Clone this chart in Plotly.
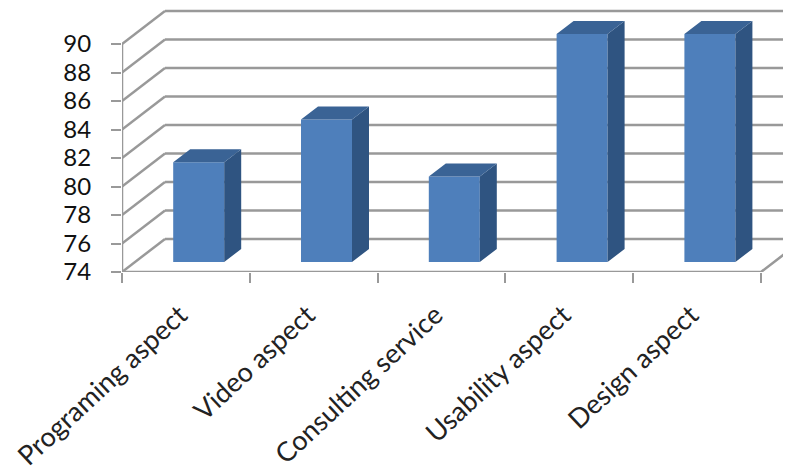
import plotly.graph_objects as go

categories = ["Programing aspect", "Video aspect", "Consulting service", "Usability aspect", "Design aspect"]
values = [81, 84, 80, 90, 90]
y_ticks = [74, 76, 78, 80, 82, 84, 86, 88, 90]

W, H = 783, 466
LEFT, FLOOR = 114, 263.7
PX_X, PX_Y = 127.8, 14.23
GRID = "#999999"
FRONT, SIDE, TOP = "#4E7FBB", "#2F5481", "#3A6395"
FONT = "Lato, Calibri, sans-serif"

# depth offsets in axis units
wall_dx, wall_dy = 43 / PX_X, 33 / PX_Y
bar_off = 12.8 / PX_X
lift = 10 / PX_Y
bar_base = 74 + lift
bar_w = 51 / PX_X
bar_dx, bar_dy = 17 / PX_X, 13 / PX_Y
n = len(categories)
centers = [i + 0.5 for i in range(n)]
xmax = (W - LEFT) / PX_X
ymax = 74 + FLOOR / PX_Y

fig = go.Figure()

# front faces
fig.add_trace(go.Bar(
    x=[c + bar_off for c in centers], y=[v - 74 for v in values], base=bar_base,
    width=bar_w, marker=dict(color=FRONT, line=dict(width=0)), hoverinfo="skip", showlegend=False,
))

# side and top faces, derived from the values
side_x, side_y, top_x, top_y = [], [], [], []
for c, v in zip(centers, values):
    l = c + bar_off - bar_w / 2
    r = c + bar_off + bar_w / 2
    t = v + lift
    side_x += [r, r + bar_dx, r + bar_dx, r, r, None]
    side_y += [bar_base, bar_base + bar_dy, t + bar_dy, t, bar_base, None]
    top_x += [l, r, r + bar_dx, l + bar_dx, l, None]
    top_y += [t, t, t + bar_dy, t + bar_dy, t, None]
for xs, ys, col in ((side_x, side_y, SIDE), (top_x, top_y, TOP)):
    fig.add_trace(go.Scatter(x=xs, y=ys, mode="lines", fill="toself", fillcolor=col,
                             line=dict(width=0), hoverinfo="skip", showlegend=False))

# axis lines and floor front edge
fig.add_trace(go.Scatter(x=[0, 0, n, n + wall_dx], y=[90, 74, 74, 74 + wall_dy], mode="lines",
                         line=dict(color=GRID, width=2.5), cliponaxis=False,
                         hoverinfo="skip", showlegend=False))

# wall grid lines behind the bars
shapes = []
for t in y_ticks:
    shapes.append(dict(type="line", xref="x", yref="y", layer="below", x0=0, y0=t,
                       x1=wall_dx, y1=t + wall_dy, line=dict(color=GRID, width=2.5)))
    shapes.append(dict(type="line", xref="x", yref="y", layer="below", x0=wall_dx, y0=t + wall_dy,
                       x1=n + wall_dx, y1=t + wall_dy, line=dict(color=GRID, width=2.5)))

fig.update_layout(
    width=W, height=H, autosize=False,
    margin=dict(l=LEFT, r=0, t=0, b=H - FLOOR, pad=0),
    paper_bgcolor="white", plot_bgcolor="rgba(0,0,0,0)",
    shapes=shapes, showlegend=False,
    xaxis=dict(range=[0, xmax], tickmode="array", tickvals=centers, ticktext=categories,
               tickangle=-43, ticks="", showgrid=False, zeroline=False, showline=False,
               ticklabelstandoff=21, ticklabelshift=-6, ticklabeloverflow="allow",
               tickfont=dict(family=FONT, size=27, color="#222222"),
               minor=dict(tickmode="array", tickvals=list(range(n + 1)), ticks="outside",
                          ticklen=10, tickwidth=2, tickcolor=GRID, showgrid=False)),
    yaxis=dict(range=[74, ymax], tickmode="array", tickvals=y_ticks, ticks="outside",
               ticklen=10, tickwidth=2, tickcolor=GRID, showgrid=False, zeroline=False,
               showline=False, ticklabelstandoff=15,
               tickfont=dict(family=FONT, size=24, color="#111111")),
)

fig.write_html("out.html")
